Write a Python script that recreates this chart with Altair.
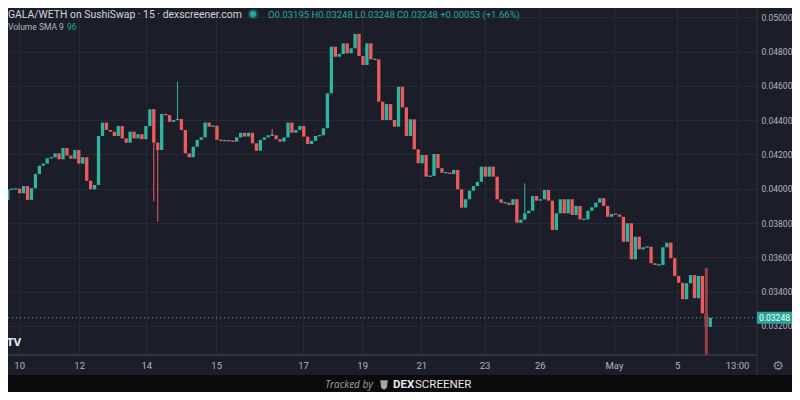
import altair as alt
import pandas as pd

# ---------------- data ----------------
first_open = 0.03935
closes = [
    0.03997, 0.03998, 0.04001, 0.03974, 0.04016, 0.03935, 0.04003, 0.04086, 0.04135, 0.04147, 0.04178,
    0.04183, 0.04207, 0.04172, 0.04238, 0.04194, 0.04175, 0.04226, 0.04147, 0.04184, 0.04047,
    0.03997, 0.04022, 0.04308, 0.04386, 0.04343, 0.04333, 0.04308, 0.04366, 0.04294, 0.04269,
    0.04333, 0.04294, 0.04318, 0.04289, 0.04366, 0.04464, 0.04269, 0.04226, 0.04436, 0.04430,
    0.04391, 0.04401, 0.04407,
    0.04343, 0.04207, 0.04184, 0.04245, 0.04285, 0.04300, 0.04386, 0.04362, 0.04368, 0.04285,
    0.04280, 0.04282, 0.04280, 0.04275, 0.04300, 0.04327, 0.04305, 0.04327, 0.04265, 0.04222,
    0.04285, 0.04300, 0.04312, 0.04312, 0.04289, 0.04275, 0.04300, 0.04386, 0.04327, 0.04343,
    0.04366, 0.04304, 0.04261, 0.04280, 0.04308, 0.04312, 0.04353, 0.04557, 0.04829, 0.04770,
    0.04786, 0.04848, 0.04790, 0.04819, 0.04903, 0.04774, 0.04722, 0.04848, 0.04755, 0.04755,
    0.04508, 0.04401, 0.04494, 0.04401, 0.04362, 0.04595, 0.04475, 0.04308, 0.04405, 0.04230,
    0.04149, 0.04197, 0.04071, 0.04075, 0.04203, 0.04120, 0.04094, 0.04094, 0.04086, 0.04110,
    0.03997, 0.03890, 0.03939, 0.03989, 0.04016, 0.04041, 0.04129, 0.04071, 0.04129, 0.04071,
    0.03939, 0.03919, 0.03919, 0.03906, 0.03939, 0.03802,
    0.03820, 0.03857, 0.03872, 0.03958, 0.03931, 0.03939, 0.03993, 0.03931, 0.03760, 0.03857,
    0.03939, 0.03857, 0.03939, 0.03847, 0.03900, 0.03822, 0.03822, 0.03872, 0.03892, 0.03919,
    0.03945, 0.03900, 0.03837, 0.03853, 0.03850, 0.03837, 0.03691, 0.03799, 0.03589, 0.03721,
    0.03647, 0.03659, 0.03662, 0.03566, 0.03556, 0.03556, 0.03659, 0.03686, 0.03595, 0.03492,
    0.03452, 0.03356, 0.03449, 0.03497, 0.03362, 0.03492, 0.03274, 0.03195, 0.03248,
]
opens = [first_open] + closes[:-1]

# candles with a visible wick
wick_idx = [37, 38, 43, 67, 131, 177]
wick_high = [0.04464, 0.04269, 0.04624, 0.04348, 0.04032, 0.03540]
wick_low = [0.03925, 0.03808, 0.04401, 0.04312, 0.03820, 0.03000]
wick_dir = ["down", "down", "up", "down", "up", "deep"]
wick_w = [1, 1, 1, 1, 1, 3]

tick_pos = [2.9, 18.1, 35.1, 52.8, 74.8, 89.8, 104.8, 120.8, 134.8, 153.6, 169.6, 184.8]
tick_text = ["10", "12", "14", "15", "17", "19", "21", "23", "26", "May", "5", "13:00"]
price_ticks = [0.032, 0.034, 0.036, 0.038, 0.040, 0.042, 0.044, 0.046, 0.048, 0.050]

last_price = 0.03248
last_label = "0.03248"

# ---------------- styling ----------------
BG = "#1b1e29"
UP = "#2eb5a0"
DOWN = "#ec5c5f"
GRID = "#262a35"
LABEL = "#b2b5be"
W, H = 749, 347
TW, TH = 784, 384

rows = []
for i, (o, c) in enumerate(zip(opens, closes)):
    hi, lo = max(o, c), min(o, c)
    if hi - lo < 0.00008:
        m = (hi + lo) / 2
        hi, lo = m + 0.00004, m - 0.00004
    rows.append({"i": i, "hi": hi, "lo": lo, "dir": "up" if c >= o else "down"})
candles = pd.DataFrame(rows)
wicks = pd.DataFrame({"i": wick_idx, "high": wick_high, "low": wick_low,
                      "dir": wick_dir, "w": wick_w})

xscale = alt.Scale(domain=[1.325, 188.575], nice=False, zero=False)
yscale = alt.Scale(domain=[0.030309, 0.050542], nice=False, zero=False)
cscale = alt.Scale(domain=["up", "down", "deep"], range=[UP, DOWN, "#93404a"])

label_expr = "[" + ",".join("'%s'" % t for t in tick_text) + "][indexof([" + \
    ",".join(str(p) for p in tick_pos) + "], datum.value)]"

xaxis = alt.Axis(values=tick_pos, labelExpr=label_expr, orient="bottom", title=None,
                 ticks=False, domain=False, grid=True, gridColor=GRID, labelColor=LABEL,
                 labelFont="Roboto", labelFontSize=9.5, labelPadding=5,
                 labelOverlap=False, labelFlush=False, labelBound=False)
yaxis = alt.Axis(values=price_ticks, format=".5f", orient="right", title=None,
                 ticks=False, domain=False, grid=True, gridColor=GRID, labelColor=LABEL,
                 labelFont="Roboto", labelFontSize=8.5, labelPadding=4,
                 labelOverlap=False, labelFlush=False, labelBound=False)

bodies = alt.Chart(candles).mark_bar(size=3.3, clip=True).encode(
    x=alt.X("i:Q", scale=xscale, axis=xaxis),
    y=alt.Y("lo:Q", scale=yscale, axis=yaxis),
    y2="hi:Q",
    color=alt.Color("dir:N", scale=cscale, legend=None),
)

wick_layer = alt.Chart(wicks).mark_rule(clip=True).encode(
    x=alt.X("i:Q", scale=xscale, axis=xaxis),
    y=alt.Y("low:Q", scale=yscale, axis=yaxis),
    y2="high:Q",
    color=alt.Color("dir:N", scale=cscale, legend=None),
    size=alt.Size("w:Q", scale=None, legend=None),
)

price_df = pd.DataFrame({"p": [last_price], "label": [last_label]})
price_line = alt.Chart(price_df).mark_rule(strokeDash=[1, 3], color="#5aa89c", strokeWidth=1).encode(
    y=alt.Y("p:Q", scale=yscale, axis=yaxis), x=alt.value(0), x2=alt.value(W))
price_box = alt.Chart(price_df).mark_tick(orient="horizontal", size=35, thickness=12,
                                          color="#26a69a", opacity=1).encode(
    y=alt.Y("p:Q", scale=yscale, axis=yaxis), x=alt.value(766.5))
price_txt = alt.Chart(price_df).mark_text(color="#ffffff", font="Roboto", fontSize=8.5,
                                          align="center", baseline="middle").encode(
    y=alt.Y("p:Q", scale=yscale, axis=yaxis), x=alt.value(766.5), text="label:N")

one = pd.DataFrame({"k": [0]})
hline = alt.Chart(one).mark_rule(color="#3a3e4a", strokeWidth=1.5).encode(
    x=alt.value(0), x2=alt.value(W), y=alt.value(H))
vline = alt.Chart(one).mark_rule(color="#2c303b", strokeWidth=1).encode(
    x=alt.value(W), y=alt.value(0), y2=alt.value(367))
footer = alt.Chart(one).mark_rect(color="#0a0a0c").encode(
    x=alt.value(0), x2=alt.value(TW), y=alt.value(367), y2=alt.value(TH))


def text_layer(s, x, y, **kw):
    return alt.Chart(pd.DataFrame({"t": [s]})).mark_text(**kw).encode(
        x=alt.value(x), y=alt.value(y), text="t:N")


title = text_layer("GALA/WETH on SushiSwap · 15 · dexscreener.com", 0, 6.5,
                   align="left", baseline="middle", font="Roboto", fontSize=10.4,
                   color="#d1d4dc")
dot_halo = alt.Chart(one).mark_point(filled=True, shape="circle", size=110,
                                     color="#26a69a", opacity=0.3).encode(
    x=alt.value(245), y=alt.value(6))
dot = alt.Chart(one).mark_point(filled=True, shape="circle", size=40,
                                color="#26a69a", opacity=1).encode(
    x=alt.value(245), y=alt.value(6))
ohlc = text_layer("O0.03195  H0.03248  L0.03248  C0.03248  +0.00053 (+1.66%)", 260, 6.5,
                  align="left", baseline="middle", font="Roboto", fontSize=9.5, color="#26a69a")
vol = text_layer("Volume SMA 9", 0, 19, align="left", baseline="middle", font="Roboto",
                 fontSize=8.5, color="#b2b5be")
vol_v = text_layer("96", 59, 19, align="left", baseline="middle", font="Roboto",
                   fontSize=8.5, color="#26a69a")
tv = text_layer("TV", 6, 335, align="center", baseline="middle", font="DejaVu Sans",
                fontSize=10, fontWeight="bold", color="#e0e3eb")
gear = text_layer("⚙", 770, 358, align="center", baseline="middle", font="DejaVu Sans",
                  fontSize=13, color="#8a8d96")
tracked = text_layer("Tracked by", 341, 377, align="center", baseline="middle",
                     font="Open Sans", fontSize=10, fontStyle="italic", color="#a0a0a8")
dex = text_layer("DEX", 385, 377, align="left", baseline="middle", font="Roboto",
                 fontSize=11.5, fontWeight="bold", color="#e8e8ec")
scr = text_layer("SCREENER", 407, 377, align="left", baseline="middle", font="Roboto",
                 fontSize=11.5, color="#e8e8ec")
logo = alt.Chart(one).mark_point(filled=True, shape="M-0.8,-1 L0.8,-1 L0.6,0.6 L0,1 L-0.6,0.6 Z",
                                 size=90, color="#e8e8ec").encode(
    x=alt.value(376), y=alt.value(377))

chart = alt.layer(
    bodies, price_line, wick_layer, hline, vline, footer, price_box, price_txt,
    title, dot_halo, dot, ohlc, vol, vol_v, tv, gear, tracked, logo, dex, scr,
).properties(
    width=W, height=H,
    padding={"left": 0, "top": 0, "right": TW - W, "bottom": TH - H},
    autosize=alt.AutoSizeParams(type="none"),
    background=BG,
).configure_view(stroke=None)

chart.save("out.html", embed_options={"renderer": "svg", "actions": False})
